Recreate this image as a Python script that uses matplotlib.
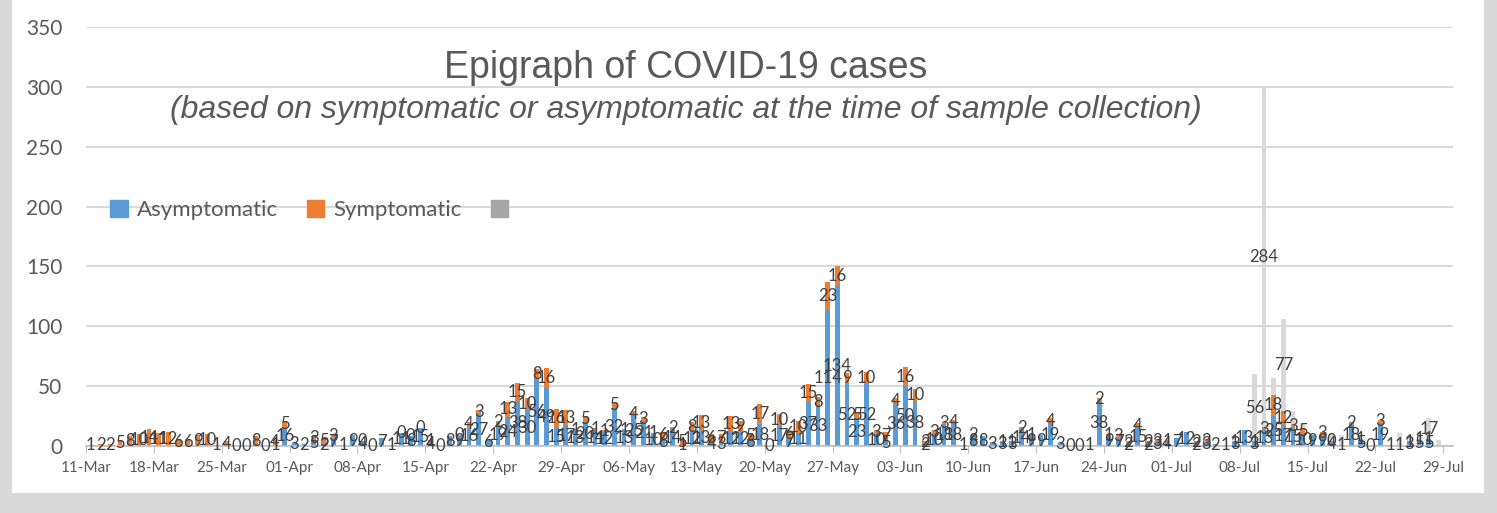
import numpy as np
import matplotlib.pyplot as plt
from matplotlib.patches import Patch, Rectangle

nan = np.nan

# one entry per day, 11-Mar .. 28-Jul
asymptomatic = [
    nan, nan, nan, nan, nan, nan, nan, nan, nan, nan,
    nan, nan, nan, nan, nan, nan, nan, nan, nan, 1,
    16, 3, 2, 5, 2, 7, 1, 9, 4, 0,
    7, 1, 11, 8, 15, 4, 0, 8, 9, 16,
    27, 6, 19, 24, 38, 30, 56, 49, 15, 17,
    13, 20, 14, 12, 32, 13, 25, 21, 10, 6,
    14, 1, 12, 13, 4, 3, 12, 12, 6, 18,
    0, 17, 7, 11, 37, 33, 114, 134, 52, 23,
    52, 10, 5, 36, 50, 38, 2, 10, 18, 18,
    1, 8, 8, 3, 3, 3, 14, 9, 9, 19,
    3, 0, 0, 1, 38, 9, 7, 2, 15, 2,
    3, 4, 7, 12, 2, 3, 2, 1, 3, 13,
    3, 13, 25, 17, 15, 10, 9, 9, 4, 1,
    18, 5, 0, 19, 1, 1, 3, 5, 5, nan,
]
symptomatic = [
    1, 2, 2, 5, 8, 10, 14, 11, 12, 6,
    6, 9, 10, 1, 4, 0, 0, 8, 0, 4,
    5, nan, nan, 3, 5, 3, nan, nan, 0, nan,
    nan, nan, 0, 0, 0, 1, nan, nan, 0, 4,
    3, nan, 2, 13, 15, 10, 8, 16, 16, 13,
    1, 5, 1, 1, 5, 1, 4, 3, 1, 6,
    2, 5, 8, 13, 6, 7, 13, 9, 5, 17,
    nan, 10, 6, 10, 15, 8, 23, 16, 9, 5,
    10, 3, 7, 4, 16, 10, 2, 3, 3, 4,
    nan, 2, nan, nan, 1, 1, 2, 1, nan, 4,
    nan, nan, nan, nan, 2, 1, 3, 2, 4, 2,
    3, 1, nan, nan, 2, 3, nan, nan, 1, nan,
    1, 3, 18, 12, 3, 5, nan, 3, 0, nan,
    2, 1, nan, 3, nan, nan, 1, 1, 1, nan,
]
third = [nan] * 120 + [
    56, 284, 14, 77, 11, 4, nan, nan, 7, 8,
    nan, nan, nan, nan, nan, 10, 4, 6, 17, 5,
]
tick_labels = ['11-Mar', '18-Mar', '25-Mar', '01-Apr', '08-Apr', '15-Apr', '22-Apr',
               '29-Apr', '06-May', '13-May', '20-May', '27-May', '03-Jun', '10-Jun',
               '17-Jun', '24-Jun', '01-Jul', '08-Jul', '15-Jul', '22-Jul', '29-Jul']

blue = '#5B9BD5'
orange = '#ED7D31'
grey = '#D9D9D9'
txt = '#595959'
font = 'Lato'

a = np.array(asymptomatic, dtype=float)
s = np.array(symptomatic, dtype=float)
g = np.array(third, dtype=float)
x = np.arange(len(a)) + 0.5

fig = plt.figure(figsize=(14.97, 5.13), dpi=100, facecolor='#d9d9d9')
fig.patches.append(Rectangle((12 / 1497, 20 / 513), 1472 / 1497, 493 / 513,
                             transform=fig.transFigure, facecolor='white',
                             edgecolor='none', zorder=-10))
ax = fig.add_axes([86 / 1497, 67 / 513, 1367 / 1497, 419 / 513])
ax.set_facecolor('none')
ax.set_zorder(1)

a0 = np.nan_to_num(a)
s0 = np.nan_to_num(s)
g0 = np.nan_to_num(g)
w = 0.5
ax.bar(x, a0, width=w, color=blue, zorder=2)
ax.bar(x, s0, width=w, bottom=a0, color=orange, zorder=2)
ax.bar(x, g0, width=w, bottom=a0 + s0, color=grey, zorder=2)

# data labels centred in each segment
lab_kw = dict(ha='center', va='center', fontsize=12, color='#404040', family=font, zorder=4)
for i in range(len(x)):
    if not np.isnan(a[i]):
        ax.text(x[i], a0[i] / 2, f'{int(a[i])}', **lab_kw)
    if not np.isnan(s[i]):
        ax.text(x[i], a0[i] + s0[i] / 2, f'{int(s[i])}', **lab_kw)
    if not np.isnan(g[i]) and g[i] >= 15:
        ax.text(x[i], a0[i] + s0[i] + g0[i] / 2, f'{int(g[i])}', **lab_kw)

ax.set_xlim(0, 141)
ax.set_ylim(0, 350)
ax.set_yticks(range(0, 351, 50))
ax.set_xticks(range(0, 141, 7))
ax.set_xticklabels(tick_labels)
ax.grid(axis='y', color='#d9d9d9', linewidth=1.5, zorder=0)
ax.set_axisbelow(True)
for sp in ['top', 'right', 'left']:
    ax.spines[sp].set_visible(False)
ax.spines['bottom'].set_color('#bfbfbf')
ax.spines['bottom'].set_linewidth(1.2)
ax.tick_params(axis='y', length=0, pad=17, labelsize=15, labelcolor=txt)
ax.tick_params(axis='x', length=5, color='#bfbfbf', pad=6, labelsize=11, labelcolor=txt)
for lab in ax.get_xticklabels() + ax.get_yticklabels():
    lab.set_family(font)

fig.text(686 / 1497, 1 - 68 / 513, 'Epigraph of COVID-19 cases', ha='center', va='center',
         fontsize=27, color=txt, family='Liberation Sans', zorder=5)
fig.text(686 / 1497, 1 - 110 / 513,
         '(based on symptomatic or asymptomatic at the time of sample collection)',
         ha='center', va='center', fontsize=23, style='italic', color=txt,
         family='Liberation Sans', zorder=5)

handles = [Patch(color=blue, label='Asymptomatic'),
           Patch(color=orange, label='Symptomatic'),
           Patch(color='#a6a6a6', label=' ')]
leg = fig.legend(handles=handles, loc='center left', bbox_to_anchor=(110 / 1497, 1 - 210 / 513),
                 ncol=3, frameon=False, prop={'family': font, 'size': 16},
                 labelcolor=txt, handlelength=0.8, handleheight=0.8, handletextpad=0.4,
                 columnspacing=1.3, borderpad=0, borderaxespad=0)
leg.set_zorder(5)

fig.savefig('out.png', dpi=100, facecolor=fig.get_facecolor())
